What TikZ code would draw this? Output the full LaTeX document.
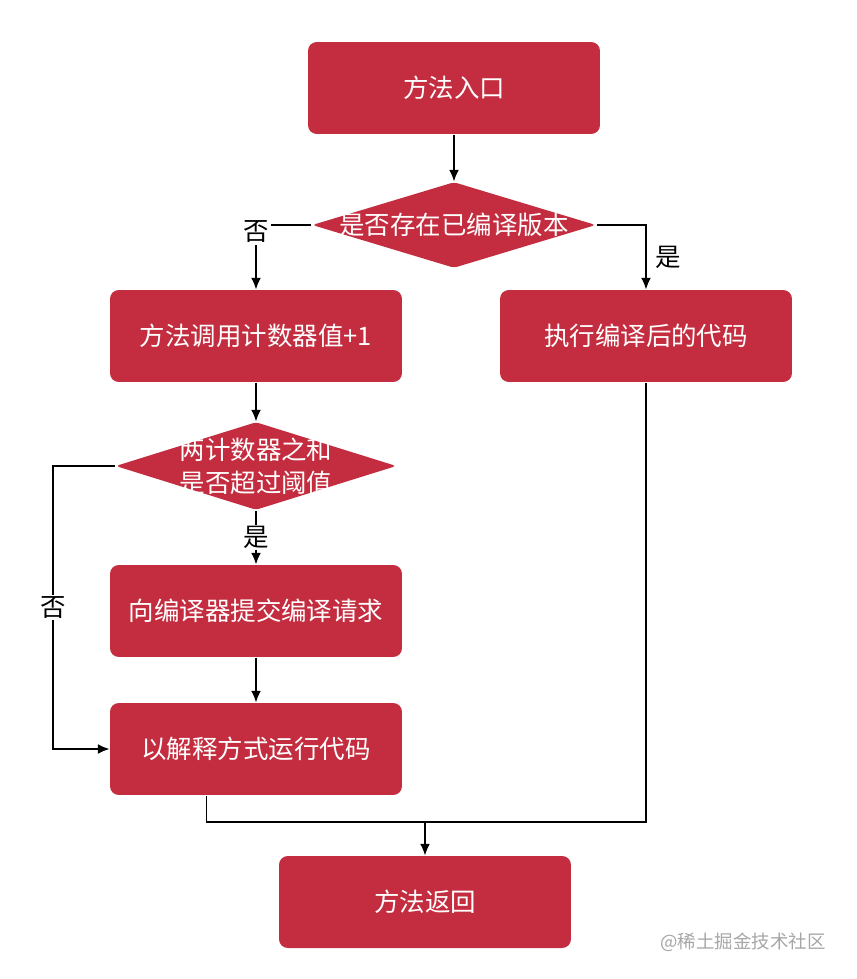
\documentclass[tikz,border=0pt]{standalone}
\usepackage{fontspec}
\setmainfont{Noto Sans CJK SC}
\usetikzlibrary{shapes.geometric,calc,arrows.meta}
\definecolor{boxred}{HTML}{C42D3F}

\begin{document}
\begin{tikzpicture}[x=0.02cm,y=-0.02cm,>={Latex[length=6.5pt,width=5.5pt]},line width=0.7pt,font=\fontsize{14.5}{19}\selectfont,
  stepbox/.style={fill=boxred,text=white,rounded corners=5pt,minimum width=5.84cm,minimum height=1.84cm},
  testbox/.style={diamond,fill=boxred,rounded corners=2pt,inner sep=0pt},
  tag/.style={fill=white,inner sep=1pt}]
  \useasboundingbox (0,0) rectangle (857,979);
  \node[stepbox] (entry) at (454,88) {方法入口};
  \node[testbox,minimum width=5.68cm,minimum height=1.72cm,label={[text=white]center:是否存在已编译版本}] (d1) at (454,225) {};
  \node[stepbox] (cnt) at (256,336) {方法调用计数器值+1}; \node[stepbox] (exec) at (646,336) {执行编译后的代码};
  \node[testbox,minimum width=5.62cm,minimum height=1.76cm,label={[text=white,align=center]center:{两计数器之和\\是否超过阈值}}] (d2) at (256,466) {};
  \node[stepbox] (req) at (256,611) {向编译器提交编译请求}; \node[stepbox] (interp) at (256,749) {以解释方式运行代码};
  \node[stepbox] (ret) at (425,902) {方法返回};
  \coordinate (lbend) at (53,466); \coordinate (merge) at (425,822);
  \draw[->] (entry) -- (d1);
  \draw[->] (d1.west) -| node[tag,yshift=-4pt]{否} (cnt); \draw[->] (d1.east) -| node[pos=0.75,right=2pt]{是} (exec);
  \draw[->] (cnt) -- (d2); \draw[->] (d2) -- node[tag]{是} (req);
  \draw[->] (d2.west) -- (lbend) |- node[pos=0.25,tag]{否} (interp); \draw[->] (req) -- (interp);
  \draw ($(interp.south west)!0.33!(interp.south east)$) |- (merge) -| (exec.south); \draw[->] (merge) -- (ret);
  \node[text=black!35,font=\fontsize{10.5}{12}\selectfont,anchor=east] (mark) at (832,942) {@稀土掘金技术社区};
\end{tikzpicture}
\end{document}
